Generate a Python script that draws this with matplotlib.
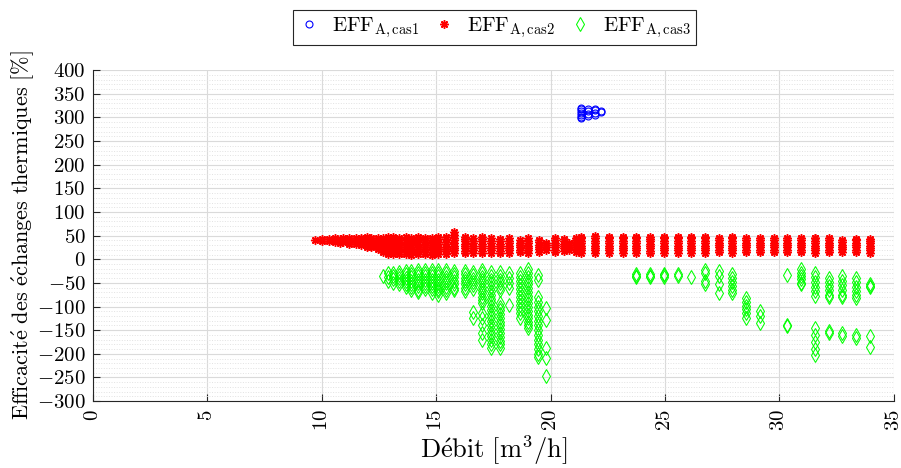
import matplotlib
matplotlib.use("Agg")
import matplotlib.pyplot as plt
from matplotlib.ticker import MultipleLocator

# Debit [m3/h] columns and efficiency values [%]
blue_x = [21.35, 21.65, 21.95, 22.20]
blue_y = [
    [298, 302, 306, 310, 314, 318, 321],
    [303, 308, 313, 318],
    [305, 310, 315, 318],
    [311, 314],
]

red_x = [9.70, 10.03, 10.30, 10.57, 10.80, 10.92, 11.20, 11.50, 11.70, 11.96, 12.17, 12.45,
         12.67, 12.90, 13.10, 13.40, 13.67, 13.90, 14.20, 14.50, 14.80, 15.07, 15.45, 15.80,
         16.25, 16.60, 17.00, 17.40, 17.80, 18.20, 18.65, 19.00, 19.50, 19.80, 20.20, 20.60,
         20.80, 21.10, 21.35, 21.95, 22.55, 23.15, 23.75, 24.35, 24.95, 25.55, 26.15, 26.75,
         27.35, 27.95, 28.55, 29.15, 29.75, 30.35, 30.95, 31.55, 32.15, 32.75, 33.35, 33.95]
red_y = [
    [40],
    [38, 42],
    [38, 42],
    [36, 40, 44],
    [35, 39, 43],
    [36, 40, 44],
    [33, 37, 41, 45],
    [32, 36, 40, 44],
    [30, 34, 38, 42, 46],
    [27, 31, 35, 39, 43, 47],
    [25, 29, 33, 37, 41, 45],
    [21, 25, 29, 33, 37, 41, 45],
    [15, 20, 25, 30, 35, 40, 45],
    [12, 17, 22, 27, 32, 37, 42, 47],
    [12, 17, 22, 27, 32, 37, 42, 47],
    [11, 16, 21, 26, 31, 36, 41, 46],
    [11, 16, 21, 26, 31, 36, 41, 47],
    [10, 15, 20, 25, 30, 35, 40, 46],
    [12, 17, 22, 27, 32, 37, 42, 47],
    [11, 16, 21, 26, 31, 36, 41, 46],
    [10, 15, 20, 25, 30, 35, 40, 45],
    [12, 17, 22, 27, 32, 37, 42, 47],
    [12, 17, 22, 27, 32, 37, 42, 48],
    [14, 19, 24, 29, 34, 40, 46, 52, 57],
    [13, 18, 23, 28, 33, 38, 43, 47],
    [14, 19, 24, 29, 34, 39, 44],
    [13, 18, 23, 28, 33, 38, 43, 47],
    [14, 19, 24, 29, 34, 39, 44],
    [13, 18, 23, 28, 33, 38, 43],
    [14, 19, 24, 29, 34, 39, 44],
    [15, 20, 25, 30, 35, 40],
    [14, 19, 24, 29, 34, 39, 44],
    [16, 21, 26, 31, 36, 41],
    [20, 25, 30, 35],
    [15, 20, 25, 30, 35, 40, 45],
    [18, 23, 28, 33, 38, 43],
    [20, 25, 30, 35],
    [16, 21, 26, 31, 36, 41, 46],
    [14, 19, 24, 29, 34, 39, 44, 48],
    [14, 19, 24, 29, 34, 39, 44, 49],
    [14, 19, 24, 29, 34, 39, 44, 48],
    [14, 19, 24, 29, 34, 39, 44, 48],
    [14, 19, 24, 29, 34, 39, 44, 48],
    [13, 18, 23, 28, 33, 38, 43, 48],
    [14, 19, 24, 29, 34, 39, 44, 48],
    [14, 19, 24, 29, 34, 39, 44, 48],
    [14, 19, 24, 29, 34, 39, 44, 47],
    [14, 19, 24, 29, 34, 39, 44, 47],
    [15, 20, 25, 30, 35, 40, 45],
    [14, 19, 24, 29, 34, 39, 44, 47],
    [15, 20, 25, 30, 35, 40, 45],
    [15, 20, 25, 30, 35, 40, 45],
    [15, 20, 25, 30, 35, 40, 44],
    [15, 20, 25, 30, 35, 40, 44],
    [15, 20, 25, 30, 35, 40, 45],
    [14, 19, 24, 29, 34, 39, 44, 46],
    [15, 20, 25, 30, 35, 40, 44],
    [16, 21, 26, 31, 36, 41],
    [15, 20, 25, 30, 35, 40, 43],
    [14, 19, 24, 29, 34, 39, 43],
]

green_x = [12.67, 12.90, 13.10, 13.40, 13.67, 13.90, 14.20, 14.50, 14.80, 15.07, 15.45, 15.80,
           16.25, 16.60, 17.00, 17.40, 17.80, 18.20, 18.65, 19.00, 19.45, 19.80,
           23.75, 24.35, 24.95, 25.55, 26.15, 26.75, 27.35, 27.95, 28.55, 29.15,
           30.35, 30.95, 31.55, 32.15, 32.75, 33.35, 33.95]
green_y = [
    [-36],
    [-30, -38, -45],
    [-28, -35, -42, -50],
    [-27, -33, -40, -47, -53],
    [-25, -32, -39, -46, -53, -58],
    [-24, -31, -38, -45, -52, -58, -65],
    [-22, -29, -36, -43, -50, -57, -64, -70],
    [-22, -29, -36, -43, -50, -57, -63],
    [-22, -29, -36, -43, -50, -56, -62, -72],
    [-22, -29, -36, -43, -50, -56, -62, -68, -75],
    [-23, -30, -37, -44, -51, -58, -65, -72],
    [-24, -31, -38, -45, -52, -60, -66],
    [-25, -32, -39, -46, -53, -60, -68],
    [-27, -34, -41, -48, -55, -62, -112, -125],
    [-23, -30, -37, -44, -51, -58, -65, -72, -79, -86, -93, -114, -125, -140, -155, -171],
    [-27, -35, -43, -51, -59, -67, -75, -83, -91, -99, -107, -115, -123, -131, -139, -147,
     -155, -163, -171, -180, -188],
    [-27, -35, -43, -51, -59, -66, -92, -100, -108, -116, -124, -132, -140, -148, -156,
     -164, -172, -180, -188],
    [-30, -40, -50, -61, -97],
    [-30, -38, -46, -55, -63, -71, -79, -88, -96, -105, -113, -125],
    [-21, -29, -37, -45, -53, -61, -69, -77, -85, -93, -101, -109, -117, -125, -133, -140,
     -146],
    [-34, -44, -80, -90, -100, -110, -120, -130, -140, -150, -160, -170, -180, -190, -200,
     -207],
    [-104, -129, -188, -209, -247],
    [-31, -35, -38],
    [-31, -35, -38],
    [-31, -34, -37],
    [-32, -35],
    [-37],
    [-23, -28, -46, -53],
    [-25, -35, -52, -71],
    [-32, -40, -48, -56, -64, -71],
    [-82, -90, -98, -106, -114, -125],
    [-109, -120, -135],
    [-33, -138, -141],
    [-21, -28, -35, -42, -50, -53],
    [-28, -38, -48, -58, -68, -77, -146, -160, -175, -190, -203],
    [-39, -48, -57, -66, -75, -80, -152, -157],
    [-35, -45, -55, -65, -75, -80, -156, -162],
    [-40, -49, -58, -67, -76, -82, -160, -167],
    [-53, -56, -59, -162, -185],
]

labels = [r"$\mathrm{EFF}_{\mathrm{A,cas1}}$",
          r"$\mathrm{EFF}_{\mathrm{A,cas2}}$",
          r"$\mathrm{EFF}_{\mathrm{A,cas3}}$"]


def flatten(xs, ys):
    px, py = [], []
    for x, col in zip(xs, ys):
        for y in col:
            px.append(x)
            py.append(y)
    return px, py


plt.rcParams["font.family"] = "cmr10"
plt.rcParams["mathtext.fontset"] = "cm"
plt.rcParams["axes.unicode_minus"] = False
plt.rcParams["axes.formatter.use_mathtext"] = True

fig, ax = plt.subplots(figsize=(9.01, 4.68), dpi=100)
fig.subplots_adjust(left=0.103, right=0.992, bottom=0.143, top=0.850)

bx, by = flatten(blue_x, blue_y)
rx, ry = flatten(red_x, red_y)
gx, gy = flatten(green_x, green_y)

ax.plot(bx, by, linestyle="none", marker="o", ms=5, mfc="none", mec=(0, 0, 1), mew=0.8,
        label=labels[0])
ax.plot(rx, ry, linestyle="none", marker=(8, 2, 0), ms=6, color=(1, 0, 0), mew=1.1,
        label=labels[1])
ax.plot(gx, gy, linestyle="none", marker="d", ms=7, mfc="none", mec=(0, 1, 0), mew=0.75,
        label=labels[2])

ax.set_xlim(0, 35)
ax.set_ylim(-300, 400)
ax.xaxis.set_major_locator(MultipleLocator(5))
ax.yaxis.set_major_locator(MultipleLocator(50))
ax.yaxis.set_minor_locator(MultipleLocator(10))

ax.grid(True, which="major", color="#dadada", linewidth=0.8)
ax.grid(True, which="minor", axis="y", color="#e2e2e2", linestyle=":", linewidth=0.7)
ax.set_axisbelow(True)

for side in ["top", "right"]:
    ax.spines[side].set_visible(False)
for side in ["left", "bottom"]:
    ax.spines[side].set_color("#262626")
    ax.spines[side].set_linewidth(0.8)

ax.tick_params(which="major", direction="in", length=5, width=0.8, color="#262626",
               labelsize=15, labelcolor="black")
ax.tick_params(which="minor", length=0)
ax.tick_params(axis="x", labelrotation=90, pad=6)
ax.tick_params(axis="y", pad=5)

ax.set_xlabel(r"$\mathrm{D\acute{e}bit\ [m^3/h]}$", fontsize=19, labelpad=1)
ax.set_ylabel(r"$\mathrm{Efficacit\acute{e}\ des\ \acute{e}changes\ thermiques\ [\%]}$",
              fontsize=16, labelpad=1)

leg = ax.legend(loc="lower center", bbox_to_anchor=(0.502, 1.075), ncol=3, fontsize=15,
                frameon=True, fancybox=False, edgecolor="#262626", framealpha=1,
                borderaxespad=0, handlelength=1.0, handletextpad=0.6, columnspacing=0.7,
                borderpad=0.25)
leg.get_frame().set_linewidth(0.8)

fig.savefig("out.png", dpi=100)
